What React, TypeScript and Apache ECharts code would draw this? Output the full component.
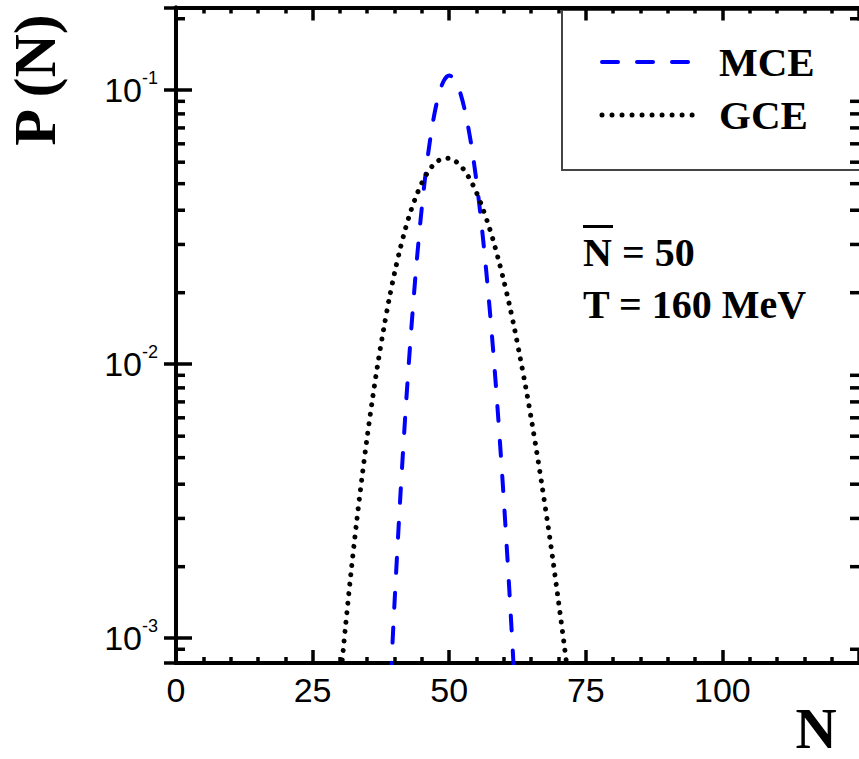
import React, { useEffect, useRef } from "react";
import * as echarts from "echarts";

// ---- data ----
const mceN = [39, 40, 41, 42, 43, 44, 45, 46, 47, 48, 49, 50, 51, 52, 53, 54, 55, 56, 57, 58, 59, 60, 61, 62, 63];
const mceP = [0.000534, 0.00135, 0.00314, 0.00666, 0.0129, 0.023, 0.0374, 0.0557, 0.0759, 0.0947, 0.108, 0.113, 0.109, 0.098, 0.0819, 0.0638, 0.0463, 0.0312, 0.0196, 0.0115, 0.00626, 0.00318, 0.0015, 0.00066, 0.00027];

const gceN = [29, 30, 31, 32, 33, 34, 35, 36, 37, 38, 39, 40, 41, 42, 43, 44, 45, 46, 47, 48, 49, 50, 51, 52, 53, 54, 55, 56, 57, 58, 59, 60, 61, 62, 63, 64, 65, 66, 67, 68, 69, 70, 71, 72, 73];
const gceP = [0.000406, 0.000677, 0.00109, 0.00171, 0.00259, 0.0038, 0.00543, 0.00755, 0.0102, 0.0134, 0.0172, 0.0215, 0.0262, 0.0312, 0.0363, 0.0412, 0.0458, 0.0498, 0.053, 0.0552, 0.0563, 0.0563, 0.0552, 0.0531, 0.0501, 0.0464, 0.0422, 0.0376, 0.033, 0.0285, 0.0241, 0.0201, 0.0165, 0.0133, 0.0105, 0.00824, 0.00634, 0.0048, 0.00358, 0.00264, 0.00191, 0.00136, 0.00096, 0.000667, 0.000457];

const X_MIN = 0;
const X_MAX = 125;
const X_INTERVAL = 25;
const Y_MIN = 0.00081;
const Y_MAX = 0.2;
// minor ticks on the log axis as drawn in the reference
const yMinorTicks = [0.182, 0.0909, 0.0818, 0.0727, 0.0636, 0.0545, 0.0455, 0.0364, 0.0273, 0.0182, 0.00909, 0.00818, 0.00727, 0.00636, 0.00545, 0.00455, 0.00364, 0.00273, 0.00182, 0.000909];

const seriesNames = ["MCE", "GCE"];
const annotation1 = "N = 50";
const annotation2 = "T = 160 MeV";

const SERIF = '"Liberation Serif", "Times New Roman", serif';
const SANS = '"Liberation Sans", Arial, sans-serif';

export default function App() {
  const ref = useRef<HTMLDivElement>(null);
  useEffect(() => {
    if (!ref.current) return;
    const chart = echarts.init(ref.current, undefined, { renderer: "svg" });
    const axisLine = { show: true, lineStyle: { color: "#000", width: 4 } };
    const xTick = { show: true, inside: true, length: 13, lineStyle: { color: "#000", width: 3.5 } };
    const xMinor = { show: true, splitNumber: 5, length: 6, lineStyle: { color: "#000", width: 3.5 } };
    const logLabel = (v: number) => {
      const l = Math.log10(v);
      const e = Math.round(l);
      if (Math.abs(l - e) > 0.01) return "";
      return `{a|10}{b|${e}}`;
    };
    chart.setOption({
      animation: false,
      backgroundColor: "#fff",
      grid: { left: 176, top: 7.5, width: 690, height: 655.5, containLabel: false },
      xAxis: [
        {
          type: "value",
          position: "bottom",
          min: X_MIN,
          max: X_MAX,
          interval: X_INTERVAL,
          axisLine,
          axisTick: xTick,
          minorTick: xMinor,
          splitLine: { show: false },
          axisLabel: {
            show: true,
            color: "#000",
            fontSize: 34,
            fontFamily: SANS,
            margin: 10,
            showMaxLabel: false,
          },
        },
        {
          type: "value",
          position: "top",
          min: X_MIN,
          max: X_MAX,
          interval: X_INTERVAL,
          axisLine,
          axisTick: xTick,
          minorTick: xMinor,
          splitLine: { show: false },
          axisLabel: { show: false },
        },
      ],
      yAxis: [
        {
          type: "log",
          logBase: 10,
          position: "left",
          min: Y_MIN,
          max: Y_MAX,
          axisLine,
          axisTick: { show: true, inside: true, length: 16, lineStyle: { color: "#000", width: 3.5 } },
          splitLine: { show: false },
          axisLabel: {
            show: true,
            margin: 18,
            showMinLabel: false,
            showMaxLabel: false,
            formatter: logLabel,
            rich: {
              a: { fontSize: 34, fontFamily: SANS, color: "#000" },
              b: { fontSize: 18, fontFamily: SANS, color: "#000", padding: [0, 0, 23, 0] },
            },
          },
        },
        {
          type: "log",
          logBase: 10,
          position: "right",
          min: Y_MIN,
          max: Y_MAX,
          axisLine,
          axisTick: { show: true, inside: true, length: 12, lineStyle: { color: "#000", width: 3.5 } },
          splitLine: { show: false },
          axisLabel: { show: false },
        },
      ],
      series: [
        {
          name: seriesNames[0],
          type: "line",
          xAxisIndex: 0,
          yAxisIndex: 0,
          data: mceN.map((n, i) => [n, mceP[i]]),
          showSymbol: false,
          symbol: "none",
          smooth: 0.3,
          clip: true,
          lineStyle: { color: "#0000ff", width: 4, type: [15, 20], cap: "round" },
          z: 3,
        },
        {
          name: seriesNames[1],
          type: "line",
          xAxisIndex: 0,
          yAxisIndex: 0,
          data: gceN.map((n, i) => [n, gceP[i]]),
          showSymbol: false,
          symbol: "none",
          smooth: 0.3,
          clip: true,
          lineStyle: { color: "#000", width: 5, type: [0.01, 9.5], cap: "round" },
          z: 4,
        },
        {
          type: "custom",
          xAxisIndex: 0,
          yAxisIndex: 0,
          silent: true,
          data: yMinorTicks.map((v) => [X_MIN, v]),
          encode: { x: 0, y: 1 },
          renderItem: (params: any, api: any) => {
            const v = api.value(1);
            const pl = api.coord([X_MIN, v]);
            const pr = api.coord([X_MAX, v]);
            return {
              type: "group",
              children: [
                { type: "line", shape: { x1: pl[0], y1: pl[1], x2: pl[0] + 9, y2: pl[1] }, style: { stroke: "#000", lineWidth: 3.5 } },
                { type: "line", shape: { x1: pr[0], y1: pr[1], x2: pr[0] - 9, y2: pr[1] }, style: { stroke: "#000", lineWidth: 3.5 } },
              ],
            };
          },
        },
      ],
      graphic: [
        {
          type: "rect",
          shape: { x: 562, y: 10, width: 400, height: 160 },
          style: { fill: "none", stroke: "#444", lineWidth: 2 },
        },
        {
          type: "line",
          shape: { x1: 602, y1: 62, x2: 688, y2: 62 },
          style: { stroke: "#0000ff", lineWidth: 4, lineDash: [16, 19], lineCap: "round" },
        },
        {
          type: "line",
          shape: { x1: 602, y1: 115, x2: 693, y2: 115 },
          style: { stroke: "#000", lineWidth: 5, lineDash: [0.01, 10], lineCap: "round" },
        },
        {
          type: "text",
          x: 719,
          y: 62,
          style: { text: seriesNames[0], font: `bold 41px ${SERIF}`, fill: "#000", align: "left", verticalAlign: "middle" },
        },
        {
          type: "text",
          x: 719,
          y: 115,
          style: { text: seriesNames[1], font: `bold 41px ${SERIF}`, fill: "#000", align: "left", verticalAlign: "middle" },
        },
        {
          type: "text",
          x: 583,
          y: 252,
          style: { text: annotation1, font: `bold 40px ${SERIF}`, fill: "#000", align: "left", verticalAlign: "middle" },
        },
        {
          type: "line",
          shape: { x1: 583, y1: 226.5, x2: 613, y2: 226.5 },
          style: { stroke: "#000", lineWidth: 3 },
        },
        {
          type: "text",
          x: 583,
          y: 304,
          style: { text: annotation2, font: `bold 40px ${SERIF}`, fill: "#000", align: "left", verticalAlign: "middle" },
        },
        {
          type: "text",
          x: 35,
          y: 80,
          rotation: Math.PI / 2,
          style: { text: "P (N)", font: `bold 60px ${SERIF}`, fill: "#000", align: "center", verticalAlign: "middle" },
        },
        {
          type: "text",
          x: 816,
          y: 728,
          style: { text: "N", font: `bold 57px ${SERIF}`, fill: "#000", align: "center", verticalAlign: "middle" },
        },
      ],
    });
    return () => chart.dispose();
  }, []);
  return (
    <div
      ref={ref}
      style={{ position: "fixed", left: 0, top: 0, width: 859, height: 759, overflow: "hidden" }}
    />
  );
}
